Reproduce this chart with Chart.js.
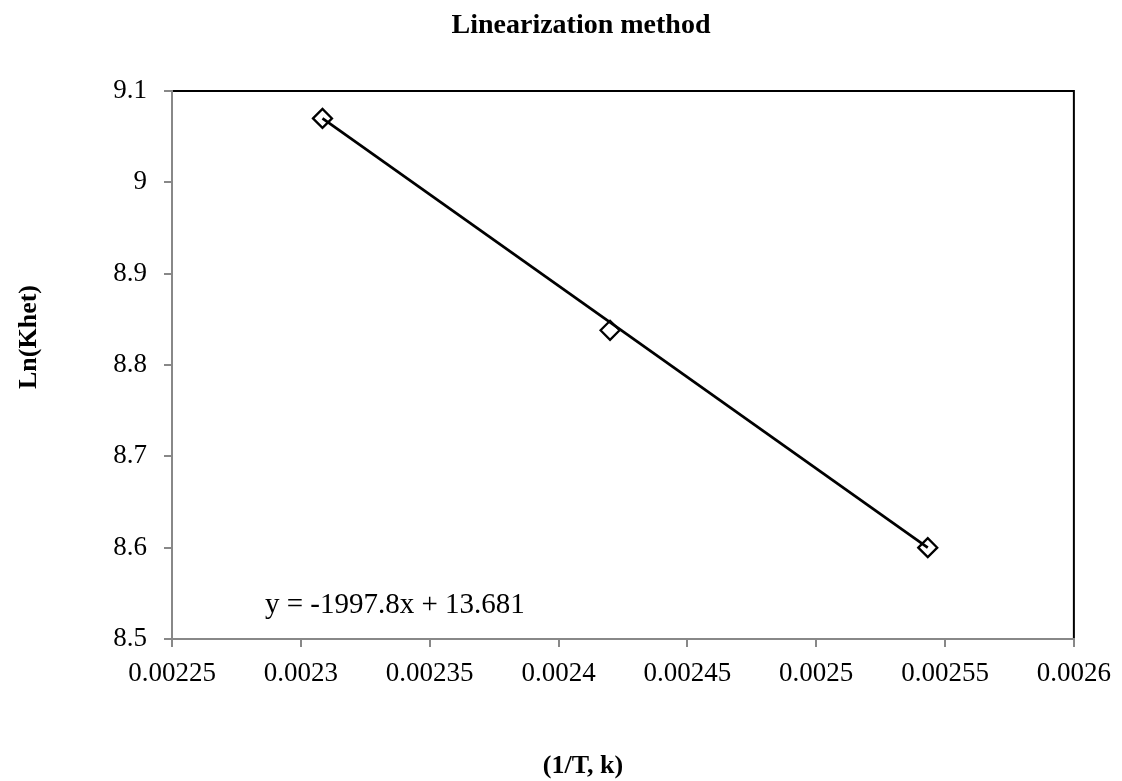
<!DOCTYPE html>
<html><head><meta charset="utf-8">
<script src="https://cdn.jsdelivr.net/npm/chart.js@4.4.0/dist/chart.umd.min.js"></script>
<style>html,body{margin:0;padding:0;background:#fff}canvas{display:block}</style>
</head><body>
<canvas id="c" width="1122" height="781"></canvas>
<script>
const chartTitle = 'Linearization method';
const xAxisTitle = '(1/T, k)';
const yAxisTitle = 'Ln(Khet)';
const equationText = 'y = -1997.8x + 13.681';
const invT = [0.0023084, 0.00242, 0.0025433];
const lnKhet = [9.070, 8.838, 8.600];
const trendX = [0.0023084, 0.0025433];
const trendY = [9.070, 8.600];
const xTickValues = [0.00225, 0.0023, 0.00235, 0.0024, 0.00245, 0.0025, 0.00255, 0.0026];
const xTickLabels = ['0.00225','0.0023','0.00235','0.0024','0.00245','0.0025','0.00255','0.0026'];
const yTickValues = [8.5, 8.6, 8.7, 8.8, 8.9, 9, 9.1];
const yTickLabels = ['8.5','8.6','8.7','8.8','8.9','9','9.1'];

const SERIF = '"Liberation Serif", "Times New Roman", serif';
const AXIS_GRAY = '#888888';

const decor = {
  id: 'decor',
  beforeDraw(chart) {
    const {ctx, chartArea: a} = chart;
    ctx.save();
    ctx.fillStyle = '#ffffff';
    ctx.fillRect(0, 0, chart.width, chart.height);
    ctx.strokeStyle = '#000000';
    ctx.lineWidth = 2;
    ctx.strokeRect(a.left, a.top, a.right - a.left, a.bottom - a.top);
    ctx.restore();
  },
  afterDraw(chart) {
    const {ctx} = chart;
    ctx.save();
    ctx.fillStyle = '#000000';
    ctx.textBaseline = 'alphabetic';
    // title
    ctx.font = 'bold 28px ' + SERIF;
    ctx.textAlign = 'center';
    ctx.fillText(chartTitle, 581, 33);
    // x axis title
    ctx.font = 'bold 26px ' + SERIF;
    ctx.fillText(xAxisTitle, 583, 773);
    // y axis title
    ctx.save();
    ctx.translate(36, 337);
    ctx.rotate(-Math.PI / 2);
    ctx.fillText(yAxisTitle, 0, 0);
    ctx.restore();
    // trendline equation
    ctx.font = '29px ' + SERIF;
    ctx.textAlign = 'left';
    ctx.fillText(equationText, 265, 613);
    ctx.restore();
  }
};

new Chart(document.getElementById('c'), {
  type: 'scatter',
  data: {
    datasets: [
      {
        label: 'Linear trend',
        data: trendX.map((x, i) => ({x, y: trendY[i]})),
        showLine: true,
        borderColor: '#000000',
        borderWidth: 2.75,
        pointRadius: 0,
        pointHoverRadius: 0,
        fill: false
      },
      {
        label: 'Ln(Khet)',
        data: invT.map((x, i) => ({x, y: lnKhet[i]})),
        showLine: false,
        pointStyle: 'rectRot',
        pointRadius: 9.5,
        pointHoverRadius: 9.5,
        pointBorderWidth: 2.25,
        borderColor: '#000000',
        backgroundColor: 'rgba(0,0,0,0)'
      }
    ]
  },
  options: {
    responsive: false,
    animation: false,
    events: [],
    layout: {padding: {top: 91, right: 45, bottom: 0, left: 0}},
    plugins: {
      legend: {display: false},
      title: {display: false},
      tooltip: {enabled: false}
    },
    scales: {
      x: {
        type: 'linear',
        min: 0.00225,
        max: 0.0026,
        afterFit(s) { s.height = 142; },
        afterBuildTicks(s) { s.ticks = xTickValues.map(v => ({value: v})); },
        ticks: {
          callback: (v, i) => xTickLabels[i],
          color: '#000000',
          font: {family: SERIF, size: 27},
          padding: 11,
          maxRotation: 0,
          autoSkip: false
        },
        grid: {drawOnChartArea: false, drawTicks: true, tickLength: 8, color: AXIS_GRAY, lineWidth: 2},
        border: {display: true, color: AXIS_GRAY, width: 2}
      },
      y: {
        type: 'linear',
        min: 8.5,
        max: 9.1,
        afterFit(s) { s.width = 172; },
        afterBuildTicks(s) { s.ticks = yTickValues.map(v => ({value: v})); },
        ticks: {
          callback: (v, i) => yTickLabels[i],
          color: '#000000',
          font: {family: SERIF, size: 27},
          padding: 17,
          autoSkip: false
        },
        grid: {drawOnChartArea: false, drawTicks: true, tickLength: 8, color: AXIS_GRAY, lineWidth: 2},
        border: {display: true, color: AXIS_GRAY, width: 2}
      }
    }
  },
  plugins: [decor]
});
</script>
</body></html>
